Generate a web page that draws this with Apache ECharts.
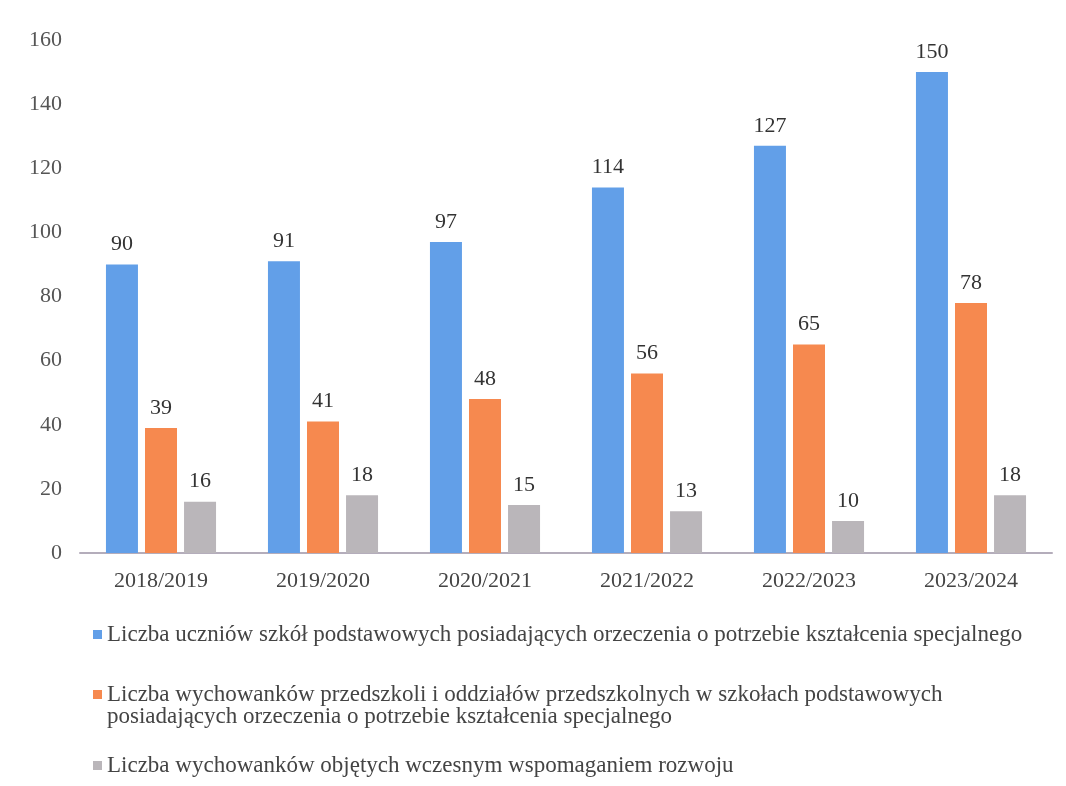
<!DOCTYPE html>
<html><head><meta charset="utf-8">
<script src="https://cdn.jsdelivr.net/npm/echarts@6/dist/echarts.min.js"></script>
<style>html,body{margin:0;padding:0;background:#fff}#c{width:1066px;height:786px}</style>
</head><body><div id="c"></div>
<script>
const categories = ['2018/2019','2019/2020','2020/2021','2021/2022','2022/2023','2023/2024'];
const seriesNames = [
  'Liczba uczniów szkół podstawowych posiadających orzeczenia o potrzebie kształcenia specjalnego',
  'Liczba wychowanków przedszkoli i oddziałów przedszkolnych w szkołach podstawowych posiadających orzeczenia o potrzebie kształcenia specjalnego',
  'Liczba wychowanków objętych wczesnym wspomaganiem rozwoju'
];
const pupils = [90, 91, 97, 114, 127, 150];
const preschool = [39, 41, 48, 56, 65, 78];
const earlySupport = [16, 18, 15, 13, 10, 18];
const yTicks = [0, 20, 40, 60, 80, 100, 120, 140, 160];

const FONT = '"Liberation Serif", "DejaVu Serif", serif';
const colors = ['#629fe8', '#f6894f', '#bab6ba'];
const label = {show: true, position: 'top', distance: 9, fontFamily: FONT, fontSize: 22, color: '#333'};

const chart = echarts.init(document.getElementById('c'));
const legendText = {fontFamily: FONT, fontSize: 23, color: '#444'};
const legendBase = {left: 88, itemWidth: 9, itemHeight: 9, itemGap: 0, textStyle: legendText, icon: 'rect'};
chart.setOption({
  animation: false,
  color: colors,
  grid: {left: 80, right: 14, top: 40, bottom: 233, containLabel: false},
  xAxis: {
    type: 'category', data: categories,
    axisLine: {lineStyle: {color: '#b4adbb', width: 2}},
    axisTick: {show: false},
    axisLabel: {fontFamily: FONT, fontSize: 22, color: '#444', margin: 17}
  },
  yAxis: {
    type: 'value', min: yTicks[0], max: yTicks[yTicks.length - 1], interval: 20,
    axisLine: {show: false}, axisTick: {show: false}, splitLine: {show: false},
    axisLabel: {fontFamily: FONT, fontSize: 22, color: '#555', margin: 18}
  },
  legend: [
    Object.assign({data: [seriesNames[0]], top: 618}, legendBase),
    Object.assign({data: [seriesNames[1]], top: 678,
      formatter: () => 'Liczba wychowanków przedszkoli i oddziałów przedszkolnych w szkołach podstawowych'}, legendBase),
    Object.assign({data: [seriesNames[2]], top: 749}, legendBase)
  ],
  graphic: [{
    type: 'text', left: 107, top: 705,
    style: {text: 'posiadających orzeczenia o potrzebie kształcenia specjalnego', font: '23px ' + FONT, fill: '#444'}
  }],
  series: [
    {name: seriesNames[0], type: 'bar', data: pupils, barWidth: 32, barGap: '22%', barCategoryGap: '32%', label},
    {name: seriesNames[1], type: 'bar', data: preschool, barWidth: 32, barGap: '22%', label},
    {name: seriesNames[2], type: 'bar', data: earlySupport, barWidth: 32, barGap: '22%', label}
  ]
});
</script></body></html>
